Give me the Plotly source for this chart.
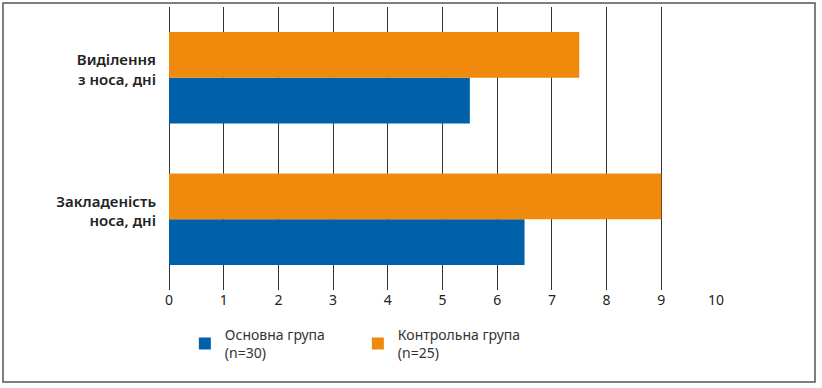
import plotly.graph_objects as go

categories = ["Закладеність<br>носа, дні", "Виділення<br>з носа, дні"]
main_group = [6.5, 5.5]
control_group = [9.0, 7.5]
series_names = ["Основна група<br>(n=30)", "Контрольна група<br>(n=25)"]
tick_vals = list(range(0, 11))

BLUE = "#0061AA"
ORANGE = "#F08A0D"
FONT = "Noto Sans"

fig = go.Figure()
fig.add_trace(go.Bar(y=categories, x=main_group, orientation="h",
                     name=series_names[0], marker=dict(color=BLUE, line=dict(width=0))))
fig.add_trace(go.Bar(y=categories, x=control_group, orientation="h",
                     name=series_names[1], marker=dict(color=ORANGE, line=dict(width=0))))

fig.update_layout(
    width=822, height=388,
    margin=dict(l=169, r=106, t=7, b=98, autoexpand=False),
    paper_bgcolor="white", plot_bgcolor="white",
    barmode="group", bargap=0.355, bargroupgap=0,
    font=dict(family=FONT, size=14, color="#222222"),
    showlegend=True,
    legend=dict(orientation="h", x=0.029, y=-0.102, xanchor="left", yanchor="top",
                font=dict(size=14, color="#333333"),
                entrywidth=128, entrywidthmode="pixels",
                itemwidth=30, tracegroupgap=0),
    xaxis=dict(range=[0, 10], tickvals=tick_vals, showgrid=True, gridcolor="#333333",
               gridwidth=1.3, zeroline=True, zerolinecolor="#333333", zerolinewidth=1.3,
               showline=False, ticks="", automargin=False, ticklabelstandoff=0,
               tickfont=dict(size=14, color="#222222"), fixedrange=True),
    yaxis=dict(showgrid=False, zeroline=False, showline=False, ticks="",
               automargin=False, ticklabelstandoff=12, ticklabelshift=-8,
               tickfont=dict(size=15, color="#222222", weight=600), fixedrange=True),
    shapes=[dict(type="rect", xref="paper", yref="paper",
                 x0=-0.3035, x1=1.181, y0=-0.325, y1=1.0141,
                 line=dict(color="#555555", width=1.5), layer="below")],
)

fig.write_html("out.html", config={"displayModeBar": False},
               post_script="document.body.style.margin='0';")
